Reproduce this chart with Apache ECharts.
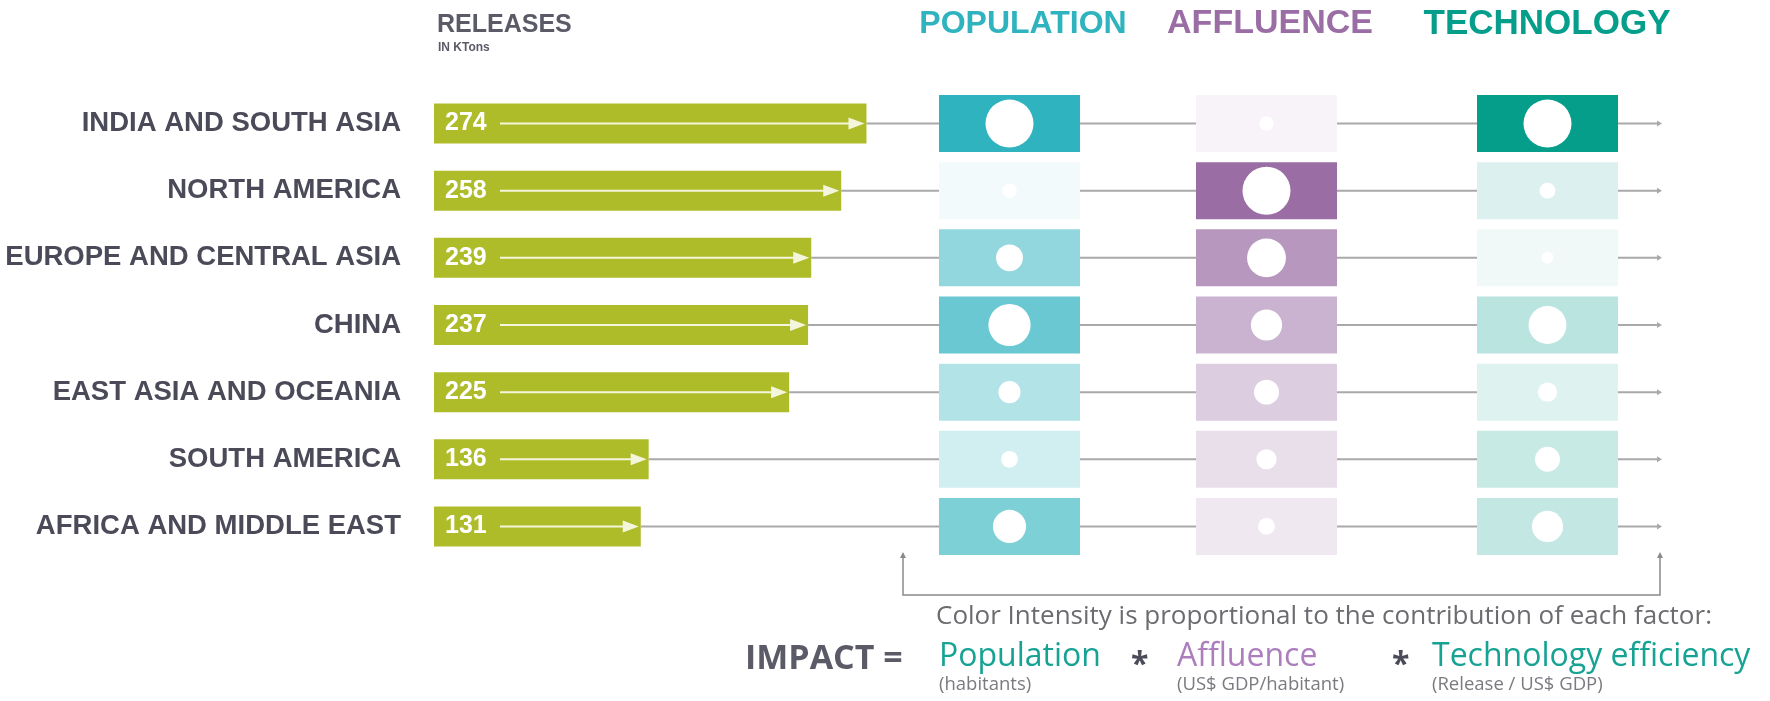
<!DOCTYPE html>
<html>
<head>
<meta charset="utf-8">
<script src="https://cdn.jsdelivr.net/npm/echarts@6/dist/echarts.min.js"></script>
<style>
html, body { margin: 0; padding: 0; background: #fff; }
#chart { width: 1770px; height: 701px; }
</style>
</head>
<body>
<div id="chart"></div>
<script>
// regions, releases (KTons)
var regions = [
    'INDIA AND SOUTH ASIA',
    'NORTH AMERICA',
    'EUROPE AND CENTRAL ASIA',
    'CHINA',
    'EAST ASIA AND OCEANIA',
    'SOUTH AMERICA',
    'AFRICA AND MIDDLE EAST'
];
var releases = [274, 258, 239, 237, 225, 136, 131];

// factors: colour intensity (0-1) and dot size (0-1, relative)
var factors = ['POPULATION', 'AFFLUENCE', 'TECHNOLOGY'];
var popShade = [1.0, 0.06, 0.52, 0.72, 0.37, 0.22, 0.62];
var popDot = [1.0, 0.30, 0.56, 0.88, 0.46, 0.35, 0.69];
var affShade = [0.08, 1.0, 0.71, 0.52, 0.34, 0.22, 0.16];
var affDot = [0.30, 1.0, 0.81, 0.65, 0.52, 0.42, 0.35];
var techShade = [1.0, 0.14, 0.06, 0.28, 0.13, 0.22, 0.24];
var techDot = [1.0, 0.33, 0.25, 0.79, 0.40, 0.52, 0.65];

(function () {
    var myChart = echarts.init(document.getElementById('chart'));

    var font = '"Liberation Sans", Arial, sans-serif';
    var font2 = '"Open Sans", "Liberation Sans", sans-serif';
    var xMax = 778;
    var baseColors = ['#2fb3bf', '#9a6da4', '#049e8b'];
    var shades = [popShade, affShade, techShade];
    var dots = [popDot, affDot, techDot];
    // factor columns and headers
    var colLeft = [939, 1196, 1477];
    var headX = [1023, 1270, 1547];
    var headSize = [32, 34, 35];

    function mix(hex, t) {
        var r = parseInt(hex.substr(1, 2), 16);
        var g = parseInt(hex.substr(3, 2), 16);
        var b = parseInt(hex.substr(5, 2), 16);
        r = Math.round(255 + (r - 255) * t);
        g = Math.round(255 + (g - 255) * t);
        b = Math.round(255 + (b - 255) * t);
        return 'rgb(' + r + ',' + g + ',' + b + ')';
    }

    var grids = [{left: 434, top: 90, width: 1228, height: 470}];
    var xAxes = [{gridIndex: 0, type: 'value', min: 0, max: xMax, show: false}];
    var yAxes = [{
        gridIndex: 0,
        type: 'category',
        inverse: true,
        data: regions,
        axisLine: {show: false},
        axisTick: {show: false},
        axisLabel: {
            margin: 33,
            color: '#4a4a59',
            fontSize: 27.5,
            fontWeight: 'bold',
            fontFamily: font
        }
    }];

    var series = [
        // grey guide line behind everything
        {
            type: 'custom',
            xAxisIndex: 0,
            yAxisIndex: 0,
            z: 1,
            silent: true,
            data: releases.map(function (v, i) { return [v, i]; }),
            renderItem: function (params, api) {
                var p0 = api.coord([api.value(0), api.value(1)]);
                var p1 = api.coord([xMax, api.value(1)]);
                return {
                    type: 'group',
                    children: [
                        {
                            type: 'line',
                            shape: {x1: p0[0], y1: p0[1], x2: p1[0] - 2, y2: p1[1]},
                            style: {stroke: '#a9a9ab', lineWidth: 2}
                        },
                        {
                            type: 'polygon',
                            shape: {points: [[p1[0] - 5, p1[1] - 3], [p1[0], p1[1]], [p1[0] - 5, p1[1] + 3]]},
                            style: {fill: '#a9a9ab'}
                        }
                    ]
                };
            }
        },
        {
            type: 'bar',
            xAxisIndex: 0,
            yAxisIndex: 0,
            z: 2,
            barWidth: 40,
            data: releases,
            itemStyle: {color: '#afbc2a'},
            label: {
                show: true,
                position: 'insideLeft',
                distance: 11,
                color: '#fff',
                fontSize: 25,
                fontWeight: 'bold',
                fontFamily: font
            }
        },
        // white arrows inside the bars
        {
            type: 'custom',
            xAxisIndex: 0,
            yAxisIndex: 0,
            z: 3,
            silent: true,
            data: releases.map(function (v, i) { return [v, i]; }),
            renderItem: function (params, api) {
                var s = api.coord([0, api.value(1)]);
                var e = api.coord([api.value(0), api.value(1)]);
                var x0 = s[0] + 66;
                var x1 = e[0] - 2;
                return {
                    type: 'group',
                    children: [
                        {
                            type: 'line',
                            shape: {x1: x0, y1: e[1], x2: x1 - 14, y2: e[1]},
                            style: {stroke: '#f4f6dc', lineWidth: 2}
                        },
                        {
                            type: 'polygon',
                            shape: {points: [[x1 - 16, e[1] - 6], [x1, e[1]], [x1 - 16, e[1] + 6]]},
                            style: {fill: '#f4f6dc'}
                        }
                    ]
                };
            }
        }
    ];

    // one small grid per factor column
    for (var f = 0; f < factors.length; f++) {
        var gi = f + 1;
        grids.push({left: colLeft[f], top: 90, width: 141, height: 470});
        xAxes.push({gridIndex: gi, type: 'category', data: [factors[f]], show: false});
        yAxes.push({gridIndex: gi, type: 'category', inverse: true, data: regions, show: false});

        series.push({
            type: 'scatter',
            xAxisIndex: gi,
            yAxisIndex: gi,
            z: 4,
            silent: true,
            symbol: 'rect',
            symbolSize: [141, 57],
            data: shades[f].map(function (s, i) { return [0, i, s]; }),
            itemStyle: {
                opacity: 1,
                color: (function (base) {
                    return function (p) { return mix(base, p.value[2]); };
                })(baseColors[f])
            }
        });
        series.push({
            type: 'scatter',
            xAxisIndex: gi,
            yAxisIndex: gi,
            z: 5,
            silent: true,
            symbol: 'circle',
            data: dots[f].map(function (d, i) { return [0, i, d]; }),
            symbolSize: function (val) { return 48 * val[2]; },
            itemStyle: {color: '#ffffff', opacity: 1}
        });
    }

    var graphics = [
        {type: 'text', left: 437, top: 13, style: {text: 'RELEASES', fill: '#5b5b68', font: 'bold 25px ' + font}},
        {type: 'text', left: 438, top: 42, style: {text: 'IN KTons', fill: '#5b5b68', font: 'bold 12px ' + font}},
        // bracket under the factor columns
        {
            type: 'polyline',
            shape: {points: [[903, 556], [903, 595], [1660, 595], [1660, 556]]},
            style: {stroke: '#8a8a8e', lineWidth: 1.5, fill: null}
        },
        {type: 'polygon', shape: {points: [[900, 558], [903, 552], [906, 558]]}, style: {fill: '#8a8a8e'}},
        {type: 'polygon', shape: {points: [[1657, 558], [1660, 552], [1663, 558]]}, style: {fill: '#8a8a8e'}},
        {type: 'text', left: 936, top: 604, style: {
            text: 'Color Intensity is proportional to the contribution of each factor:',
            fill: '#6b6b70', font: '26px ' + font2
        }},
        {type: 'text', left: 745, top: 642, style: {text: 'IMPACT =', fill: '#5b5b68', font: 'bold 34px ' + font2}},
        {type: 'text', left: 939, top: 641, style: {text: 'Population', fill: '#16a394', font: '32px ' + font2}},
        {type: 'text', left: 1131, top: 650, style: {text: '*', fill: '#4b4b5a', font: 'bold 32px ' + font2}},
        {type: 'text', left: 1177, top: 641, style: {text: 'Affluence', fill: '#ac7ebd', font: '32px ' + font2}},
        {type: 'text', left: 1392, top: 650, style: {text: '*', fill: '#4b4b5a', font: 'bold 32px ' + font2}},
        {type: 'text', left: 1432, top: 641, style: {text: 'Technology efficiency', fill: '#16a394', font: '32px ' + font2}},
        {type: 'text', left: 939, top: 675, style: {text: '(habitants)', fill: '#7a7a80', font: '18.5px ' + font2}},
        {type: 'text', left: 1177, top: 675, style: {text: '(US$ GDP/habitant)', fill: '#7a7a80', font: '18.5px ' + font2}},
        {type: 'text', left: 1432, top: 675, style: {text: '(Release / US$ GDP)', fill: '#7a7a80', font: '18.5px ' + font2}}
    ];
    for (var h = 0; h < factors.length; h++) {
        graphics.push({
            type: 'text',
            x: headX[h],
            y: 24,
            style: {
                text: factors[h],
                fill: baseColors[h],
                font: 'bold ' + headSize[h] + 'px ' + font,
                textAlign: 'center',
                textVerticalAlign: 'middle'
            }
        });
    }

    var option = {
        animation: false,
        backgroundColor: '#ffffff',
        grid: grids,
        xAxis: xAxes,
        yAxis: yAxes,
        series: series,
        graphic: graphics
    };

    myChart.setOption(option);
    window.addEventListener('resize', function () {
        myChart.resize();
    });
})();
</script>
</body>
</html>
